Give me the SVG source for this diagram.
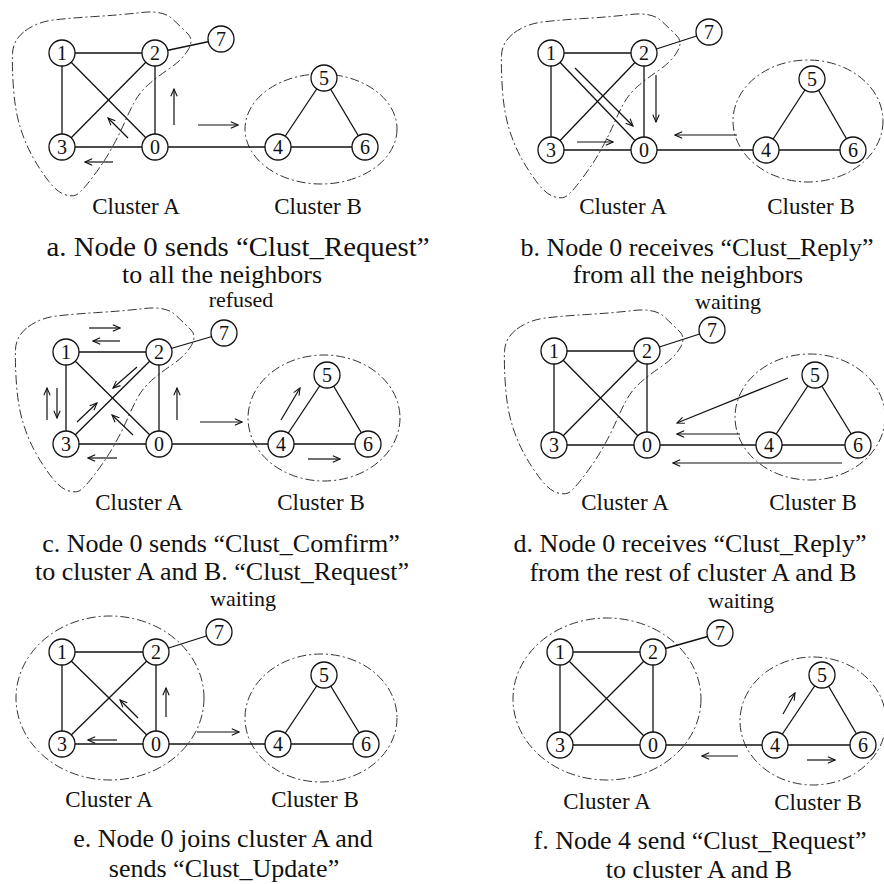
<svg xmlns="http://www.w3.org/2000/svg" xmlns:xlink="http://www.w3.org/1999/xlink" width="884" height="884" viewBox="0 0 884 884">
<style>
.n circle{fill:#fff;stroke:#111;stroke-width:1.3}
.n text{font-family:"Liberation Serif","Times New Roman",serif;font-size:20px;text-anchor:middle;fill:#111}
.e line{stroke:#111;stroke-width:1.3}
.ar line{stroke:#111;stroke-width:1.2;marker-end:url(#ah)}
.cl{fill:none;stroke:#333;stroke-width:1;stroke-dasharray:9 3 2 3}
.lb{font-family:"Liberation Serif","Times New Roman",serif;font-size:23px;text-anchor:middle;fill:#111}
.sm{font-family:"Liberation Serif","Times New Roman",serif;font-size:22px;text-anchor:middle;fill:#111}
.cap{font-family:"Liberation Serif","Times New Roman",serif;font-size:26px;text-anchor:middle;fill:#111}
</style>
<defs>
<marker id="ah" viewBox="0 0 10 10" refX="9" refY="5" markerWidth="9" markerHeight="9" markerUnits="userSpaceOnUse" orient="auto"><path d="M1,1.5 L9,5 L1,8.5" fill="none" stroke="#111" stroke-width="1.2"/></marker>
<path id="blob" d="M-37,-22 Q-25,-31 -8.5,-33 Q8,-35 33,-36.5 Q58,-38 79.5,-40.5 Q101,-43 110.5,-34 Q120,-25 126,-19 Q132,-13 126,-3 Q120,7 107.5,15.5 Q95,24 86.5,31.5 Q78,39 73,48 Q68,57 63,68.5 Q58,80 51.5,92 Q45,104 38,114 Q31,124 24.5,132 Q18,140 14,142 Q10,144 2.5,141.5 Q-5,139 -13.5,128 Q-22,117 -29.5,103.5 Q-37,90 -42,73.5 Q-47,57 -48.5,35.5 Q-50,14 -49.5,0.5 Q-49,-13 -37,-22 Z"/>
</defs>
<rect width="884" height="884" fill="#fff"/>

<!-- Panel a -->
<g id="panel-a">
<g id="a-clusters"><use xlink:href="#blob" class="cl" transform="translate(62,53)"/><ellipse class="cl" cx="321" cy="129" rx="76" ry="55"/></g>
<g id="a-connectors">
<g class="e"><line x1="62" y1="53" x2="155" y2="53"/><line x1="62" y1="53" x2="62" y2="147"/><line x1="62" y1="53" x2="155" y2="147"/><line x1="155" y1="53" x2="62" y2="147"/><line x1="155" y1="53" x2="155" y2="147"/><line x1="62" y1="147" x2="155" y2="147"/><line x1="155" y1="53" x2="221" y2="39"/><line x1="155" y1="147" x2="278" y2="147"/><line x1="278" y1="147" x2="324" y2="78"/><line x1="324" y1="78" x2="365" y2="147"/><line x1="278" y1="147" x2="365" y2="147"/></g>
<g class="ar"><line x1="174" y1="125" x2="174" y2="89"/><line x1="198" y1="125" x2="238" y2="125"/><line x1="128" y1="138" x2="108" y2="118"/><line x1="113" y1="162" x2="85" y2="162"/></g>
</g>
<g id="a-node-1" class="n"><circle cx="62" cy="53" r="13"/><text x="62" y="59.5">1</text></g>
<g id="a-node-2" class="n"><circle cx="155" cy="53" r="13"/><text x="155" y="59.5">2</text></g>
<g id="a-node-7" class="n"><circle cx="221" cy="39" r="13"/><text x="221" y="45.5">7</text></g>
<g id="a-node-3" class="n"><circle cx="62" cy="147" r="13"/><text x="62" y="153.5">3</text></g>
<g id="a-node-0" class="n"><circle cx="155" cy="147" r="13"/><text x="155" y="153.5">0</text></g>
<g id="a-node-4" class="n"><circle cx="278" cy="147" r="13"/><text x="278" y="153.5">4</text></g>
<g id="a-node-5" class="n"><circle cx="324" cy="78" r="13"/><text x="324" y="84.5">5</text></g>
<g id="a-node-6" class="n"><circle cx="365" cy="147" r="13"/><text x="365" y="153.5">6</text></g>
<text class="lb" x="136" y="214">Cluster A</text>
<text class="lb" x="318" y="214">Cluster B</text>
<text class="cap" x="238" y="256" style="font-size:27.5px" textLength="383" lengthAdjust="spacingAndGlyphs">a. Node 0 sends “Clust_Request”</text>
<text class="cap" x="222" y="283">to all the neighbors</text>
</g>

<!-- Panel b -->
<g id="panel-b">
<g id="b-clusters"><use xlink:href="#blob" class="cl" transform="translate(551,55)"/><ellipse class="cl" cx="808" cy="121" rx="75" ry="61"/></g>
<g id="b-connectors">
<g class="e"><line x1="551" y1="53" x2="644" y2="53"/><line x1="551" y1="53" x2="551" y2="150"/><line x1="551" y1="53" x2="644" y2="150"/><line x1="644" y1="53" x2="551" y2="150"/><line x1="644" y1="53" x2="644" y2="150"/><line x1="551" y1="150" x2="644" y2="150"/><line x1="644" y1="53" x2="709" y2="32"/><line x1="644" y1="150" x2="766" y2="150"/><line x1="766" y1="150" x2="812" y2="79"/><line x1="812" y1="79" x2="853" y2="150"/><line x1="766" y1="150" x2="853" y2="150"/></g>
<g class="ar"><line x1="575" y1="68" x2="633" y2="126"/><line x1="656" y1="75" x2="656" y2="122"/><line x1="577" y1="142" x2="613" y2="142"/><line x1="737" y1="135" x2="675" y2="135"/></g>
</g>
<g id="b-node-1" class="n"><circle cx="551" cy="53" r="13"/><text x="551" y="59.5">1</text></g>
<g id="b-node-2" class="n"><circle cx="644" cy="53" r="13"/><text x="644" y="59.5">2</text></g>
<g id="b-node-7" class="n"><circle cx="709" cy="32" r="13"/><text x="709" y="38.5">7</text></g>
<g id="b-node-3" class="n"><circle cx="551" cy="150" r="13"/><text x="551" y="156.5">3</text></g>
<g id="b-node-0" class="n"><circle cx="644" cy="150" r="13"/><text x="644" y="156.5">0</text></g>
<g id="b-node-4" class="n"><circle cx="766" cy="150" r="13"/><text x="766" y="156.5">4</text></g>
<g id="b-node-5" class="n"><circle cx="812" cy="79" r="13"/><text x="812" y="85.5">5</text></g>
<g id="b-node-6" class="n"><circle cx="853" cy="150" r="13"/><text x="853" y="156.5">6</text></g>
<text class="lb" x="623" y="214">Cluster A</text>
<text class="lb" x="811" y="214">Cluster B</text>
<text class="cap" x="697" y="256">b. Node 0 receives “Clust_Reply”</text>
<text class="cap" x="688" y="283">from all the neighbors</text>
</g>

<!-- Panel c -->
<g id="panel-c">
<text class="sm" x="241" y="307">refused</text>
<g id="c-clusters"><use xlink:href="#blob" class="cl" transform="translate(65,349)"/><ellipse class="cl" cx="324" cy="418" rx="76" ry="63"/></g>
<g id="c-connectors">
<g class="e"><line x1="66" y1="352" x2="159" y2="352"/><line x1="66" y1="352" x2="66" y2="444"/><line x1="66" y1="352" x2="159" y2="444"/><line x1="159" y1="352" x2="66" y2="444"/><line x1="159" y1="352" x2="159" y2="444"/><line x1="66" y1="444" x2="159" y2="444"/><line x1="159" y1="352" x2="224" y2="333"/><line x1="159" y1="444" x2="281" y2="444"/><line x1="281" y1="444" x2="327" y2="375"/><line x1="327" y1="375" x2="368" y2="444"/><line x1="281" y1="444" x2="368" y2="444"/></g>
<g class="ar"><line x1="89" y1="328" x2="120" y2="328"/><line x1="120" y1="341" x2="93" y2="341"/><line x1="47" y1="420" x2="47" y2="388"/><line x1="57" y1="388" x2="57" y2="418"/><line x1="137" y1="367" x2="113" y2="388"/><line x1="77" y1="422" x2="97" y2="403"/><line x1="133" y1="435" x2="112" y2="415"/><line x1="177" y1="420" x2="177" y2="388"/><line x1="200" y1="422" x2="242" y2="422"/><line x1="117" y1="458" x2="88" y2="458"/><line x1="281" y1="420" x2="300" y2="388"/><line x1="308" y1="459" x2="340" y2="459"/></g>
</g>
<g id="c-node-1" class="n"><circle cx="66" cy="352" r="13"/><text x="66" y="358.5">1</text></g>
<g id="c-node-2" class="n"><circle cx="159" cy="352" r="13"/><text x="159" y="358.5">2</text></g>
<g id="c-node-7" class="n"><circle cx="224" cy="333" r="13"/><text x="224" y="339.5">7</text></g>
<g id="c-node-3" class="n"><circle cx="66" cy="444" r="13"/><text x="66" y="450.5">3</text></g>
<g id="c-node-0" class="n"><circle cx="159" cy="444" r="13"/><text x="159" y="450.5">0</text></g>
<g id="c-node-4" class="n"><circle cx="281" cy="444" r="13"/><text x="281" y="450.5">4</text></g>
<g id="c-node-5" class="n"><circle cx="327" cy="375" r="13"/><text x="327" y="381.5">5</text></g>
<g id="c-node-6" class="n"><circle cx="368" cy="444" r="13"/><text x="368" y="450.5">6</text></g>
<text class="lb" x="139" y="510">Cluster A</text>
<text class="lb" x="321" y="510">Cluster B</text>
<text class="cap" x="221" y="552">c. Node 0 sends “Clust_Comfirm”</text>
<text class="cap" x="222" y="580">to cluster A and B. “Clust_Request”</text>
</g>

<!-- Panel d -->
<g id="panel-d">
<text class="sm" x="728" y="309">waiting</text>
<g id="d-clusters"><use xlink:href="#blob" class="cl" transform="translate(554,351)"/><ellipse class="cl" cx="810" cy="417" rx="75" ry="63"/></g>
<g id="d-connectors">
<g class="e"><line x1="554" y1="351" x2="647" y2="351"/><line x1="554" y1="351" x2="554" y2="445"/><line x1="554" y1="351" x2="647" y2="445"/><line x1="647" y1="351" x2="554" y2="445"/><line x1="647" y1="351" x2="647" y2="445"/><line x1="554" y1="445" x2="647" y2="445"/><line x1="647" y1="351" x2="712" y2="330"/><line x1="647" y1="445" x2="769" y2="445"/><line x1="769" y1="445" x2="815" y2="375"/><line x1="815" y1="375" x2="858" y2="445"/><line x1="769" y1="445" x2="858" y2="445"/></g>
<g class="ar"><line x1="788" y1="378" x2="677" y2="423"/><line x1="740" y1="434" x2="677" y2="434"/><line x1="842" y1="463" x2="673" y2="463"/></g>
</g>
<g id="d-node-1" class="n"><circle cx="554" cy="351" r="13"/><text x="554" y="357.5">1</text></g>
<g id="d-node-2" class="n"><circle cx="647" cy="351" r="13"/><text x="647" y="357.5">2</text></g>
<g id="d-node-7" class="n"><circle cx="712" cy="330" r="13"/><text x="712" y="336.5">7</text></g>
<g id="d-node-3" class="n"><circle cx="554" cy="445" r="13"/><text x="554" y="451.5">3</text></g>
<g id="d-node-0" class="n"><circle cx="647" cy="445" r="13"/><text x="647" y="451.5">0</text></g>
<g id="d-node-4" class="n"><circle cx="769" cy="445" r="13"/><text x="769" y="451.5">4</text></g>
<g id="d-node-5" class="n"><circle cx="815" cy="375" r="13"/><text x="815" y="381.5">5</text></g>
<g id="d-node-6" class="n"><circle cx="858" cy="445" r="13"/><text x="858" y="451.5">6</text></g>
<text class="lb" x="625" y="510">Cluster A</text>
<text class="lb" x="813" y="510">Cluster B</text>
<text class="cap" x="690" y="552">d. Node 0 receives “Clust_Reply”</text>
<text class="cap" x="693" y="581">from the rest of cluster A and B</text>
</g>

<!-- Panel e -->
<g id="panel-e">
<text class="sm" x="243" y="606">waiting</text>
<g id="e-clusters"><ellipse class="cl" cx="110" cy="698" rx="94" ry="82"/><ellipse class="cl" cx="321" cy="718" rx="76" ry="64"/></g>
<g id="e-connectors">
<g class="e"><line x1="62" y1="652" x2="156" y2="652"/><line x1="62" y1="652" x2="62" y2="744"/><line x1="62" y1="652" x2="156" y2="744"/><line x1="156" y1="652" x2="62" y2="744"/><line x1="156" y1="652" x2="156" y2="744"/><line x1="62" y1="744" x2="156" y2="744"/><line x1="156" y1="652" x2="219" y2="632"/><line x1="156" y1="744" x2="278" y2="744"/><line x1="278" y1="744" x2="324" y2="675"/><line x1="324" y1="675" x2="366" y2="744"/><line x1="278" y1="744" x2="366" y2="744"/></g>
<g class="ar"><line x1="166" y1="717" x2="166" y2="688"/><line x1="138" y1="718" x2="120" y2="700"/><line x1="117" y1="740" x2="88" y2="740"/><line x1="197" y1="732" x2="239" y2="732"/></g>
</g>
<g id="e-node-1" class="n"><circle cx="62" cy="652" r="13"/><text x="62" y="658.5">1</text></g>
<g id="e-node-2" class="n"><circle cx="156" cy="652" r="13"/><text x="156" y="658.5">2</text></g>
<g id="e-node-7" class="n"><circle cx="219" cy="632" r="13"/><text x="219" y="638.5">7</text></g>
<g id="e-node-3" class="n"><circle cx="62" cy="744" r="13"/><text x="62" y="750.5">3</text></g>
<g id="e-node-0" class="n"><circle cx="156" cy="744" r="13"/><text x="156" y="750.5">0</text></g>
<g id="e-node-4" class="n"><circle cx="278" cy="744" r="13"/><text x="278" y="750.5">4</text></g>
<g id="e-node-5" class="n"><circle cx="324" cy="675" r="13"/><text x="324" y="681.5">5</text></g>
<g id="e-node-6" class="n"><circle cx="366" cy="744" r="13"/><text x="366" y="750.5">6</text></g>
<text class="lb" x="109" y="807">Cluster A</text>
<text class="lb" x="315" y="807">Cluster B</text>
<text class="cap" x="223" y="847">e. Node 0 joins cluster A and</text>
<text class="cap" x="224" y="877">sends “Clust_Update”</text>
</g>

<!-- Panel f -->
<g id="panel-f">
<text class="sm" x="741" y="608">waiting</text>
<g id="f-clusters"><ellipse class="cl" cx="607" cy="699" rx="94" ry="81"/><ellipse class="cl" cx="813" cy="721" rx="73" ry="64"/></g>
<g id="f-connectors">
<g class="e"><line x1="560" y1="652" x2="653" y2="652"/><line x1="560" y1="652" x2="560" y2="745"/><line x1="560" y1="652" x2="653" y2="745"/><line x1="653" y1="652" x2="560" y2="745"/><line x1="653" y1="652" x2="653" y2="745"/><line x1="560" y1="745" x2="653" y2="745"/><line x1="653" y1="652" x2="720" y2="633"/><line x1="653" y1="745" x2="775" y2="745"/><line x1="775" y1="745" x2="822" y2="675"/><line x1="822" y1="675" x2="863" y2="745"/><line x1="775" y1="745" x2="863" y2="745"/></g>
<g class="ar"><line x1="783" y1="714" x2="795" y2="693"/><line x1="738" y1="756" x2="702" y2="756"/><line x1="807" y1="760" x2="835" y2="760"/></g>
</g>
<g id="f-node-1" class="n"><circle cx="560" cy="652" r="13"/><text x="560" y="658.5">1</text></g>
<g id="f-node-2" class="n"><circle cx="653" cy="652" r="13"/><text x="653" y="658.5">2</text></g>
<g id="f-node-7" class="n"><circle cx="720" cy="633" r="13"/><text x="720" y="639.5">7</text></g>
<g id="f-node-3" class="n"><circle cx="560" cy="745" r="13"/><text x="560" y="751.5">3</text></g>
<g id="f-node-0" class="n"><circle cx="653" cy="745" r="13"/><text x="653" y="751.5">0</text></g>
<g id="f-node-4" class="n"><circle cx="775" cy="745" r="13"/><text x="775" y="751.5">4</text></g>
<g id="f-node-5" class="n"><circle cx="822" cy="675" r="13"/><text x="822" y="681.5">5</text></g>
<g id="f-node-6" class="n"><circle cx="863" cy="745" r="13"/><text x="863" y="751.5">6</text></g>
<text class="lb" x="607" y="809">Cluster A</text>
<text class="lb" x="818" y="810">Cluster B</text>
<text class="cap" x="700" y="849">f. Node 4 send “Clust_Request”</text>
<text class="cap" x="699" y="878">to cluster A and B</text>
</g>
</svg>
